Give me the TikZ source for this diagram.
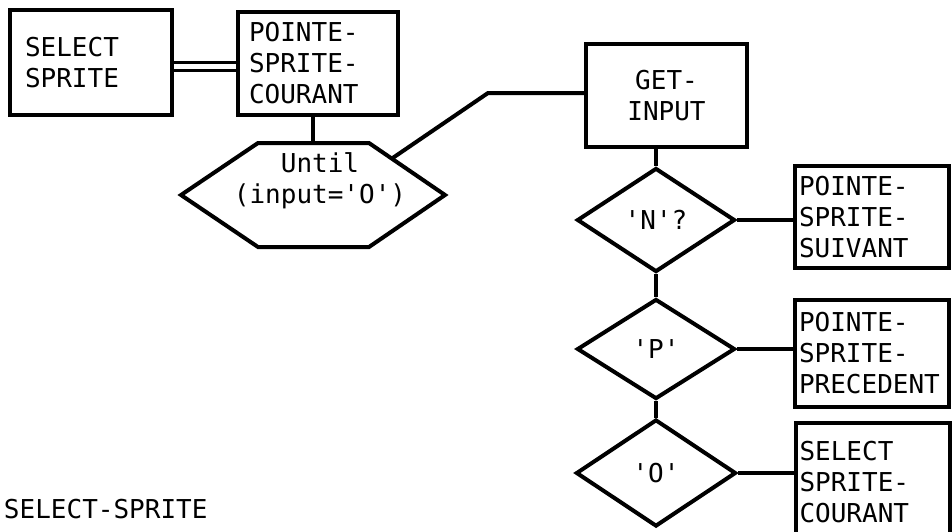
\documentclass[tikz,border=0pt]{standalone}
\usepackage{fontspec}
\newfontfamily\diagfont{DejaVu Sans Mono}
\usetikzlibrary{shapes.geometric,calc}
\begin{document}
\begin{tikzpicture}[x=1pt,y=-1pt, line width=4pt,
  font=\diagfont\fontsize{26}{31}\selectfont,
  box/.style={draw, rectangle, inner ysep=0pt, align=left},
  dia/.style={draw, diamond, minimum width=158pt, minimum height=104pt, inner sep=0pt},
  conn/.style={line width=4pt},
  dbl/.style={double, line width=3pt, double distance=5pt}]
\useasboundingbox (0,0) rectangle (952,531);
\clip (0,0) rectangle (952,531);

% boxes
\node[box, minimum height=105pt, inner xsep=15pt, text width=132pt] (sel) at (91,62.5) {SELECT\\SPRITE};
\node[box, minimum height=103pt, inner xsep=11pt, text width=138pt] (psc) at (318,63.5) {POINTE-\\SPRITE-\\COURANT};
\node[box, minimum height=103pt, inner xsep=15pt, text width=131pt, align=center] (get) at (666.5,95.5) {GET-\\INPUT};
\node[box, minimum height=102pt, inner xsep=4pt, text width=146pt] (suiv) at (872,217) {POINTE-\\SPRITE-\\SUIVANT};
\node[box, minimum height=107pt, inner xsep=4pt, text width=146pt] (prec) at (872,353.5) {POINTE-\\SPRITE-\\PRECEDENT};
\node[box, minimum height=118pt, inner xsep=4pt, text width=146pt] (selc) at (872.5,482) {SELECT\\SPRITE-\\COURANT};

% hexagon (loop)
\node[minimum width=260pt, minimum height=100pt, inner sep=0pt] (hex) at (313,195) {};
\draw[line join=miter] (hex.west) -- ([xshift=77pt]hex.north west) -- ([xshift=-76pt]hex.north east)
  -- (hex.east) -- ([xshift=-76pt]hex.south east) -- ([xshift=77pt]hex.south west) -- cycle;
\node[align=center, inner sep=0pt] (hextxt) at (320,181) {Until\\(input='O')};

% diamonds
\node[dia] (dN) at (656,220) {'N'?};
\node[dia, minimum height=100pt] (dP) at (656,349) {'P'};
\node[dia, minimum width=160pt, minimum height=107pt] (dO) at (656,473) {'O'};

% bottom title
\node[anchor=base west, inner sep=0pt] (bottxt) at (2,518) {SELECT-SPRITE};

% connectors
\coordinate (dl) at (0,66);
\draw[dbl] (sel.east |- dl) -- (psc.west |- dl);
\draw[conn] (psc.south -| hex.north) -- (hex.north);
\coordinate (hexc) at ($(hex.east)!0.7!([xshift=-76pt]hex.north east)$);
\coordinate (bend) at (488,93);
\draw[conn] (hexc) -- (bend) -- (bend -| get.west);
\draw[conn] (dN.north |- get.south) -- (dN.north);
\draw[conn] (dN.east) -- (dN.east -| suiv.west);
\draw[conn] (dN.south) -- (dP.north);
\draw[conn] (dP.east) -- (dP.east -| prec.west);
\draw[conn] (dP.south) -- (dO.north);
\draw[conn] (dO.east) -- (dO.east -| selc.west);
\end{tikzpicture}
\end{document}
